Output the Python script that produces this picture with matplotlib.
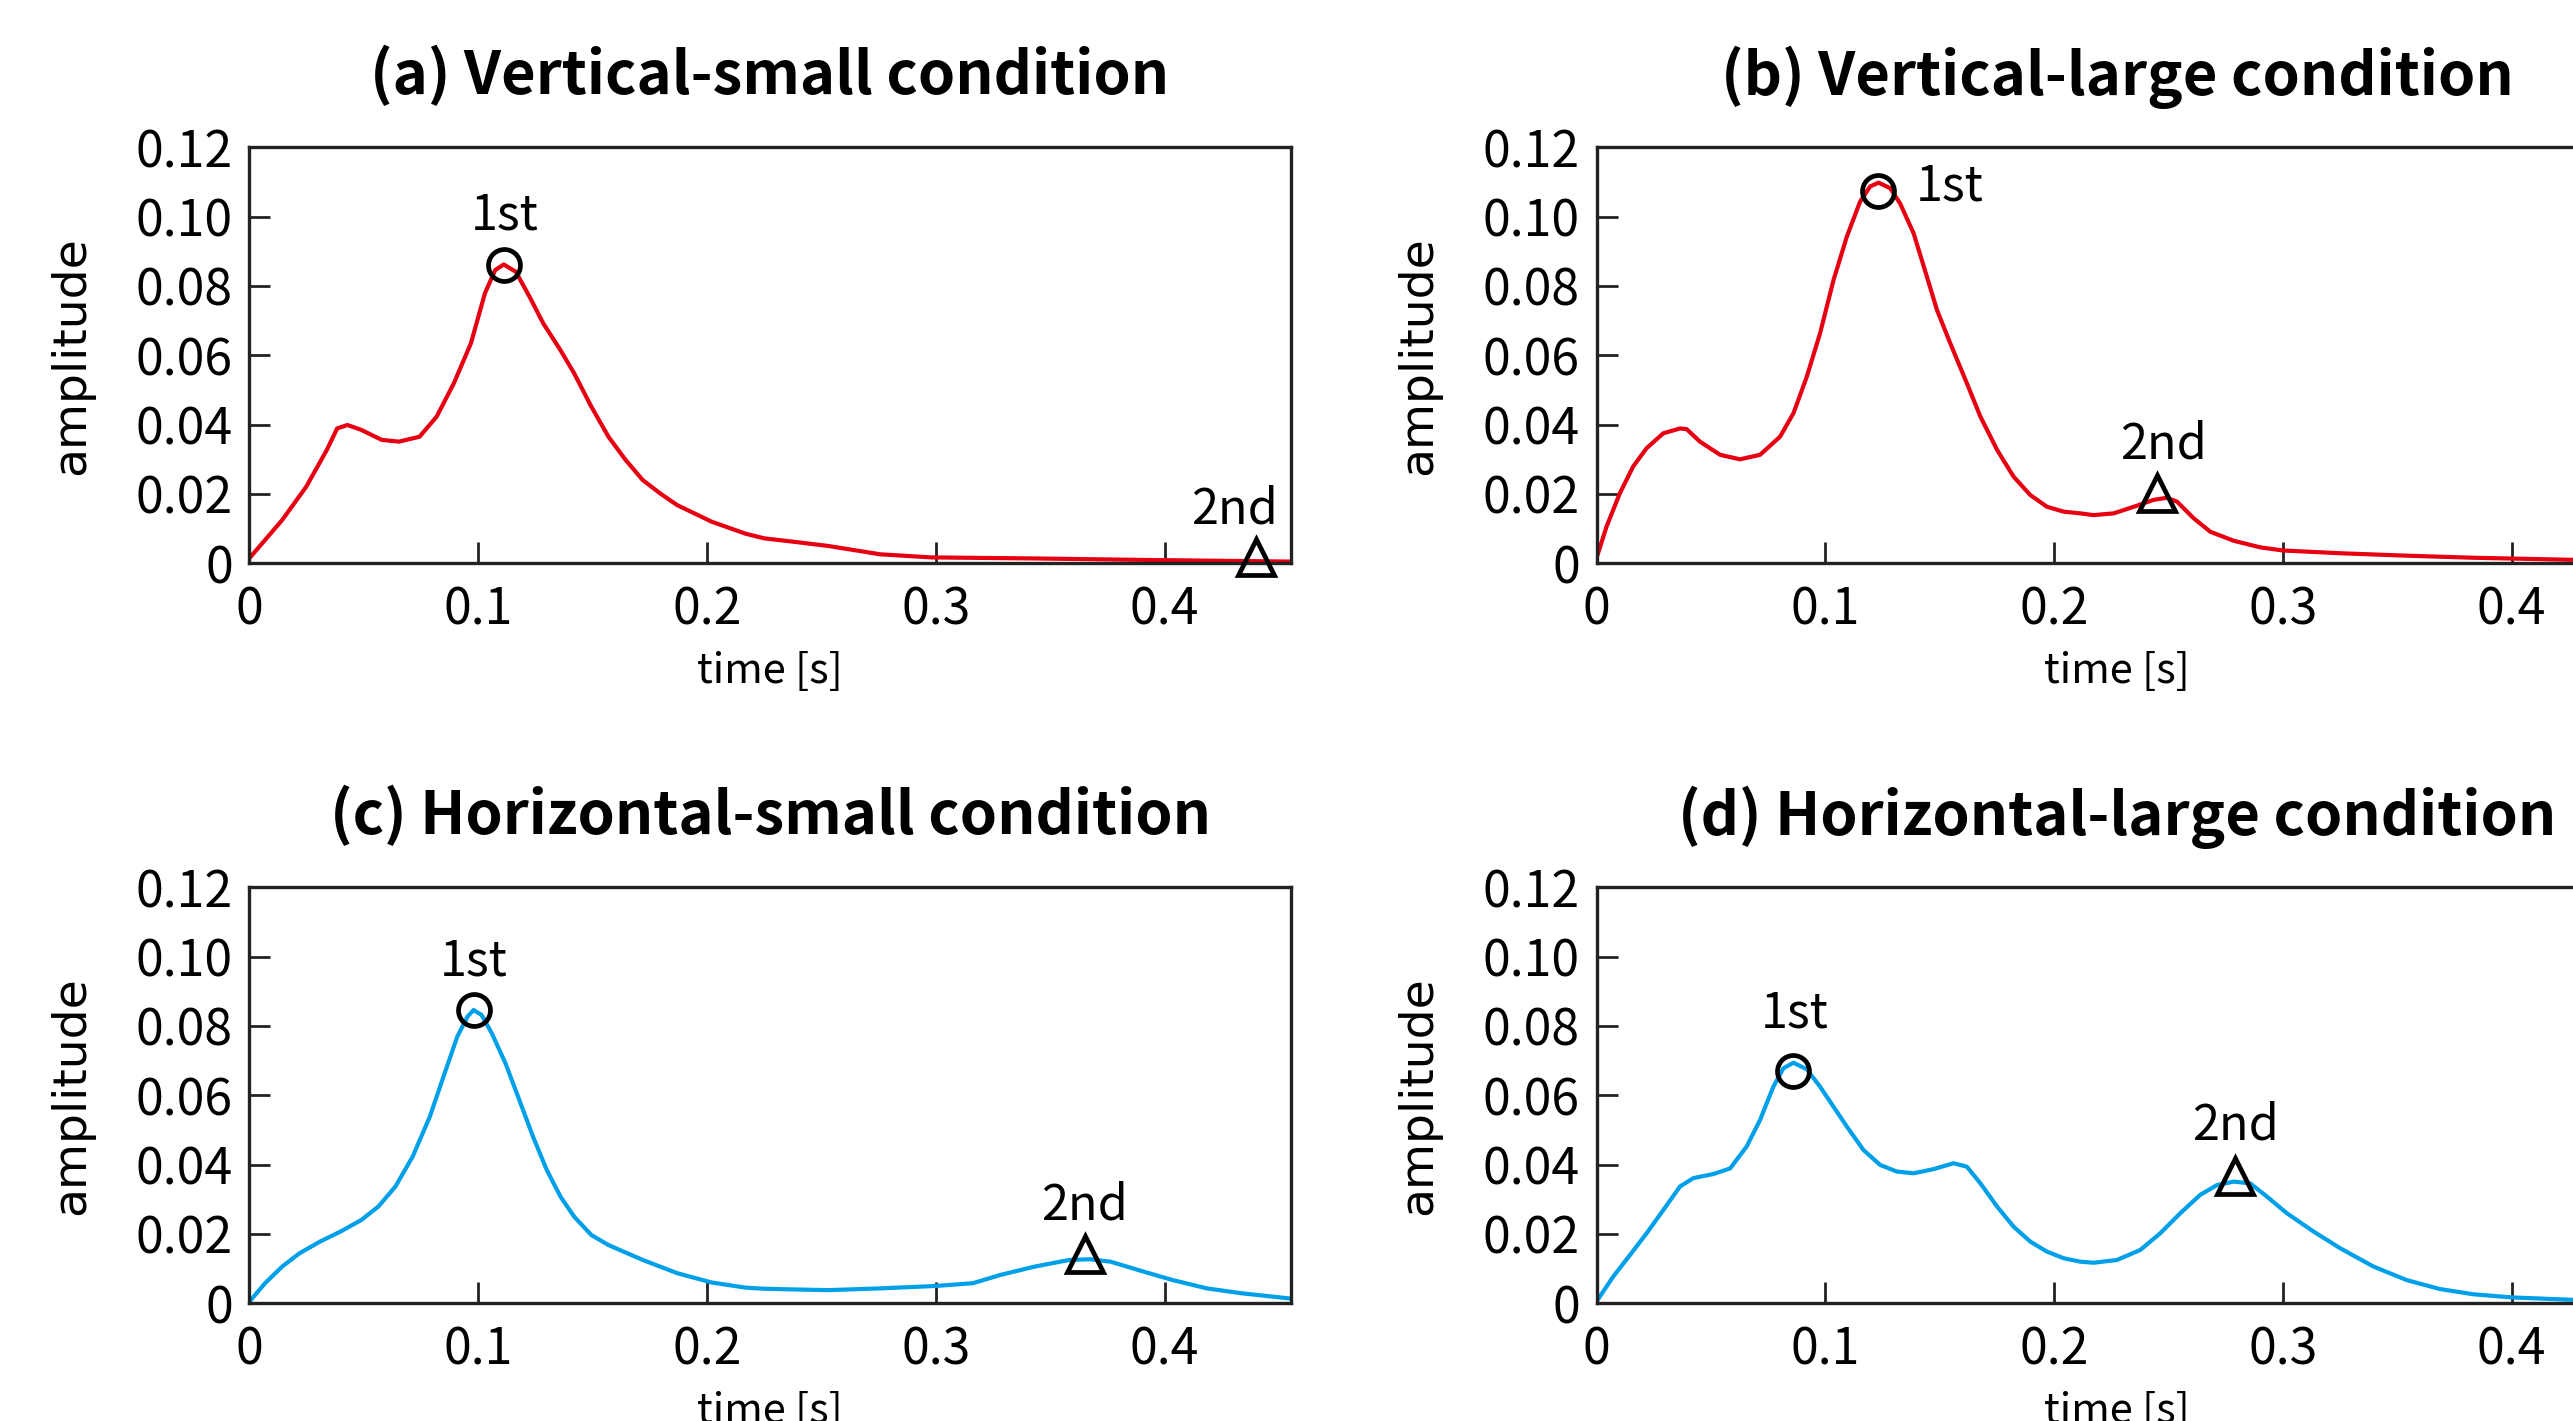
import matplotlib
matplotlib.use("Agg")
import matplotlib.pyplot as plt

# ---- data ----
titles = ["(a) Vertical-small condition", "(b) Vertical-large condition",
          "(c) Horizontal-small condition", "(d) Horizontal-large condition"]

t_a = [0, 0.0143, 0.0248, 0.0338, 0.0383, 0.0428, 0.0488, 0.0578, 0.0653, 0.0743,
       0.0818, 0.0893, 0.0968, 0.1029, 0.1074, 0.1111, 0.1164, 0.1224, 0.1284, 0.1359,
       0.1419, 0.1494, 0.1569, 0.1644, 0.1719, 0.1794, 0.1869, 0.2020, 0.2170, 0.2250,
       0.238, 0.253, 0.2756, 0.298, 0.343, 0.388, 0.4545]
amp_a = [0.0015, 0.0125, 0.0221, 0.0327, 0.0389, 0.0399, 0.0385, 0.0356, 0.0351, 0.0365,
         0.0423, 0.0519, 0.0635, 0.0779, 0.0846, 0.0862, 0.0841, 0.0769, 0.0692, 0.0615,
         0.0548, 0.0452, 0.0365, 0.0298, 0.0240, 0.0202, 0.0168, 0.0120, 0.0085, 0.0072,
         0.0062, 0.0050, 0.0026, 0.0017, 0.0014, 0.0010, 0.0005]

t_b = [0, 0.0044, 0.0102, 0.016, 0.0219, 0.0292, 0.0365, 0.0394, 0.0452, 0.054,
       0.0627, 0.0715, 0.0802, 0.0861, 0.0919, 0.0977, 0.1036, 0.1094, 0.1152, 0.1196,
       0.1233, 0.1284, 0.1327, 0.1386, 0.1444, 0.1488, 0.1546, 0.1619, 0.1678, 0.1751,
       0.1823, 0.1896, 0.1969, 0.2042, 0.2115, 0.2173, 0.226, 0.2348, 0.2435, 0.2493,
       0.2537, 0.261, 0.2683, 0.2785, 0.2901, 0.3, 0.325, 0.3541, 0.3833, 0.4269, 0.455]
amp_b = [0.0015, 0.0106, 0.0202, 0.0279, 0.0332, 0.0375, 0.0389, 0.0387, 0.0351, 0.0313,
         0.0300, 0.0313, 0.0365, 0.0433, 0.0538, 0.0663, 0.0817, 0.0942, 0.1043, 0.1087,
         0.1098, 0.1082, 0.1038, 0.0952, 0.0827, 0.0731, 0.0635, 0.0519, 0.0423, 0.0327,
         0.0250, 0.0197, 0.0163, 0.0149, 0.0144, 0.0139, 0.0144, 0.0163, 0.0183, 0.0189,
         0.0178, 0.0130, 0.0091, 0.0065, 0.0046, 0.0037, 0.0029, 0.0022, 0.0016, 0.0010, 0.0007]

t_c = [0, 0.0068, 0.0143, 0.0218, 0.0308, 0.0398, 0.0488, 0.0563, 0.0638, 0.0713,
       0.0788, 0.0848, 0.0908, 0.0953, 0.0979, 0.1014, 0.1059, 0.1119, 0.1179, 0.1239,
       0.1299, 0.1359, 0.1419, 0.1494, 0.1569, 0.1719, 0.1869, 0.202, 0.217, 0.225,
       0.238, 0.253, 0.2756, 0.3, 0.3162, 0.3283, 0.3433, 0.3583, 0.3674, 0.3764,
       0.3884, 0.4035, 0.4185, 0.4335, 0.4546]
amp_c = [0.0005, 0.0058, 0.0106, 0.0144, 0.0178, 0.0207, 0.0240, 0.0279, 0.0337, 0.0423,
         0.0538, 0.0654, 0.0769, 0.0827, 0.0846, 0.0832, 0.0779, 0.0692, 0.0587, 0.0481,
         0.0385, 0.0308, 0.0250, 0.0197, 0.0168, 0.0125, 0.0087, 0.0060, 0.0045, 0.0042,
         0.0040, 0.0038, 0.0043, 0.0050, 0.0058, 0.0082, 0.0106, 0.0125, 0.0127, 0.0120,
         0.0096, 0.0067, 0.0043, 0.0029, 0.0014]

t_d = [0, 0.0073, 0.0146, 0.0219, 0.0292, 0.0365, 0.0423, 0.0511, 0.0584, 0.0656,
       0.0715, 0.0773, 0.0817, 0.0861, 0.0919, 0.0977, 0.1036, 0.1094, 0.1167, 0.124,
       0.1313, 0.1386, 0.1473, 0.1561, 0.1619, 0.1678, 0.1751, 0.1823, 0.1896, 0.1969,
       0.2042, 0.2115, 0.2173, 0.2275, 0.2377, 0.2464, 0.2552, 0.2639, 0.2712, 0.2785,
       0.2857, 0.293, 0.3017, 0.3134, 0.325, 0.3396, 0.3541, 0.3687, 0.3833, 0.4,
       0.4269, 0.455]
amp_d = [0.0005, 0.0077, 0.0139, 0.0202, 0.0269, 0.0337, 0.0361, 0.0373, 0.0389, 0.0452,
         0.0529, 0.0625, 0.0678, 0.0694, 0.0675, 0.0625, 0.0567, 0.0510, 0.0442, 0.0399,
         0.0380, 0.0375, 0.0387, 0.0404, 0.0394, 0.0346, 0.0279, 0.0221, 0.0178, 0.0149,
         0.0130, 0.0120, 0.0117, 0.0125, 0.0154, 0.0202, 0.0260, 0.0313, 0.0341, 0.0351,
         0.0346, 0.0308, 0.0260, 0.0207, 0.0159, 0.0106, 0.0067, 0.0041, 0.0026, 0.0017,
         0.0010, 0.0005]

# detected peaks (circle = 1st, triangle = 2nd)
first_t = [0.1114, 0.123, 0.098, 0.0861]
first_amp = [0.0861, 0.1075, 0.0846, 0.067]
second_t = [0.4398, 0.245, 0.3651, 0.2792]
second_amp = [0.0018, 0.0204, 0.0141, 0.0367]

xticks = [0, 0.1, 0.2, 0.3, 0.4]
xticklabels = ["0", "0.1", "0.2", "0.3", "0.4"]
yticks = [0, 0.02, 0.04, 0.06, 0.08, 0.10, 0.12]
yticklabels = ["0", "0.02", "0.04", "0.06", "0.08", "0.10", "0.12"]

# ---- layout / style ----
RED = "#e60012"
BLUE = "#00a0e9"
colors = [RED, RED, BLUE, BLUE]
series = [(t_a, amp_a), (t_b, amp_b), (t_c, amp_c), (t_d, amp_d)]

# label offsets (points) relative to each marker
first_off = [(0, 25.5), (52, -7), (0, 24.5), (1, 31.5)]
second_off = [(-15, 24.5), (5, 24.5), (0, 25), (0, 26)]

NARROW = ["Noto Sans CJK JP", "DejaVu Sans"]
TICK_FS = 36
ANN_FS = 35
TITLE_FS = 43

W, H = 2573, 1421
fig = plt.figure(figsize=(W / 100, H / 100), dpi=100)

ax_w = 1041 / W
ax_h = 416 / H
lefts = [249.5 / W, 1596.5 / W]
bottoms = [1 - 563.3 / H, 1 - 1303.3 / H]
positions = [(lefts[0], bottoms[0]), (lefts[1], bottoms[0]),
             (lefts[0], bottoms[1]), (lefts[1], bottoms[1])]

for i, (l, b) in enumerate(positions):
    ax = fig.add_axes([l, b, ax_w, ax_h])
    t, amp = series[i]
    ax.plot(t, amp, color=colors[i], lw=3.0, solid_joinstyle="round", zorder=2)

    ax.plot(first_t[i], first_amp[i], "o", ms=23, mfc="none", mec="black",
            mew=3.4, clip_on=False, zorder=3)
    ax.plot(second_t[i], second_amp[i], "^", ms=26, mfc="none", mec="black",
            mew=3.4, clip_on=False, zorder=3)
    ax.annotate("1st", (first_t[i], first_amp[i]), xytext=first_off[i],
                textcoords="offset points", ha="center", va="baseline",
                fontsize=ANN_FS, family=NARROW)
    ax.annotate("2nd", (second_t[i], second_amp[i]), xytext=second_off[i],
                textcoords="offset points", ha="center", va="baseline",
                fontsize=ANN_FS, family=NARROW)

    ax.set_xlim(0, 0.455)
    ax.set_ylim(0, 0.12)
    ax.set_xticks(xticks)
    ax.set_xticklabels(xticklabels, family=NARROW, fontsize=TICK_FS)
    ax.set_yticks(yticks)
    ax.set_yticklabels(yticklabels, family=NARROW, fontsize=TICK_FS)
    ax.tick_params(direction="in", length=15, width=2, pad=12, color="#222222")
    ax.tick_params(axis="x", pad=15)
    for sp in ax.spines.values():
        sp.set_linewidth(2.4)
        sp.set_color("#222222")

    ax.set_xlabel("time [s]", family=NARROW, fontsize=30, labelpad=11)
    ax.set_ylabel("amplitude", family="DejaVu Sans", fontsize=34, labelpad=30)
    ax.set_title(titles[i], family=NARROW, fontweight="bold",
                 fontsize=TITLE_FS, pad=38)

fig.savefig("out.png", dpi=100)
